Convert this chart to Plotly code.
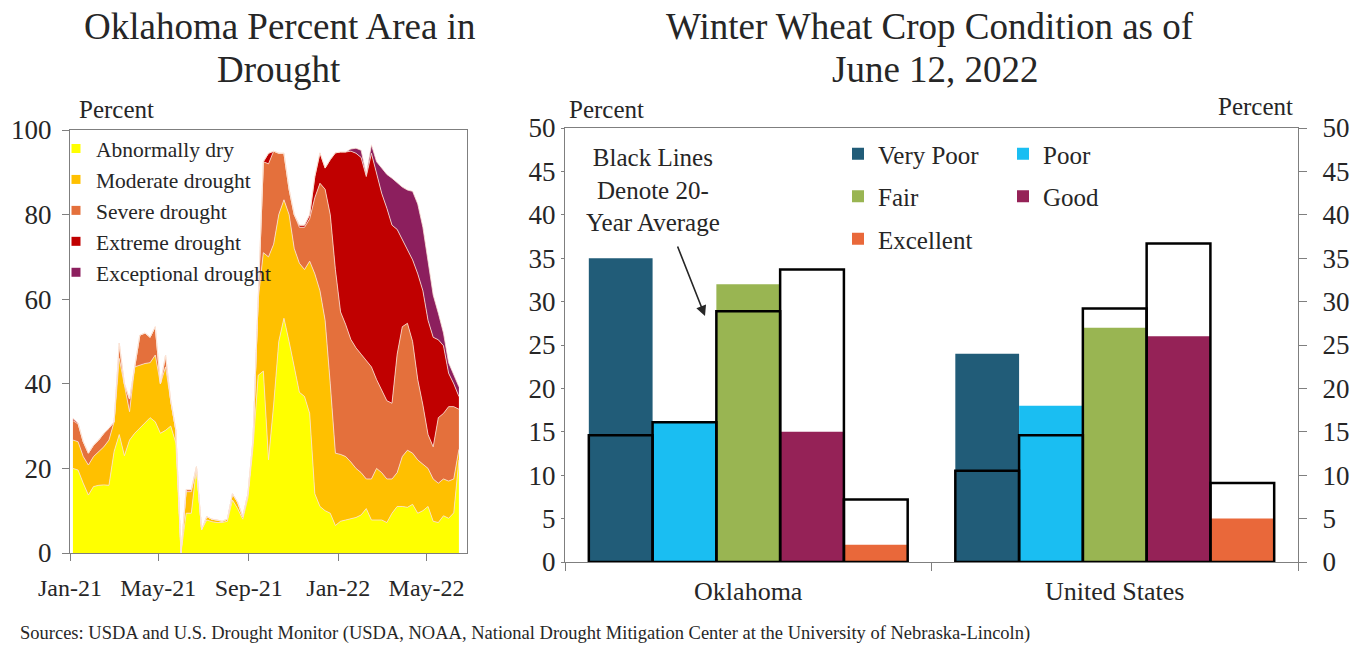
import pandas as pd
import plotly.graph_objects as go

# --- Painel esquerdo: Oklahoma, % da área em seca (Drought Monitor, semanal) ---
# Cada lista guarda o limite superior de cada faixa (as faixas são empilhadas).
semanas = pd.date_range("2021-01-05", periods=76, freq="7D")

topo_anormal = [20, 19.6, 16.5, 13.7, 15.7, 16, 16.1, 16, 24, 28,
                23, 26.7, 28.3, 29.5, 30.7, 32, 31, 28.3, 29, 30,
                26, 0, 9.4, 9.4, 20, 5.5, 7.8, 7.4, 7.2, 7.2,
                7.5, 12.5, 10.5, 8, 13, 25, 42, 43, 22, 35,
                50, 55.5, 50, 44, 38, 37, 33, 14, 11, 10,
                9.4, 6.5, 7.5, 7.8, 8.1, 8.4, 9, 10.5, 7.8, 7.8,
                7.8, 7.2, 9.4, 11, 11, 10.8, 11.5, 9.4, 10, 11,
                7.5, 7.2, 8.8, 8.2, 9.5, 22]
topo_moderada = [26.7, 26.3, 22.8, 20.8, 22.8, 24, 25.1, 26.7, 31, 46,
                 40, 33.4, 44, 44.4, 44.8, 45, 46.8, 40, 44, 36,
                 29, 0, 14.5, 14.5, 20.4, 5.5, 8.6, 8.0, 7.8, 7.5,
                 8, 14, 12, 8.6, 14, 27, 60, 71, 70, 73,
                 80, 83.5, 80, 72, 68.5, 67, 69, 66, 62, 55,
                 40, 23.6, 23.3, 22.8, 21.5, 20, 19, 17.5, 17.5, 20,
                 19, 17.5, 17.5, 19, 22.8, 24.3, 23.6, 22, 21, 20,
                 17.5, 16.5, 17.5, 17, 17.5, 24.5]
topo_severa = [31.3, 30.5, 26.3, 23.6, 25.5, 26.7, 28.3, 29.5, 31, 49.6,
               40, 36.4, 44, 51.5, 52, 51, 53.5, 40, 46.8, 36,
               29, 0, 15, 15, 20.4, 5.5, 8.6, 8.0, 7.8, 7.5,
               8, 14, 12, 8.6, 14, 27, 60, 92.5, 92, 95,
               94.5, 94.5, 86, 80, 77, 77, 79, 84, 87.4, 86,
               80, 67, 57, 54, 50.5, 48.5, 47, 45.5, 44, 41,
               38.5, 36, 35.4, 47, 53.5, 54.3, 50, 41, 35, 28,
               25.1, 32, 33, 34.6, 34.6, 34]
topo_extrema = [31.8, 30.7, 26.3, 23.6, 25.5, 26.7, 28.3, 29.5, 31, 49.6,
                40, 36.4, 44, 51.5, 52, 51, 53.5, 40, 46.8, 36,
                29, 0, 15, 15, 20.4, 5.5, 8.6, 8.0, 7.8, 7.5,
                8, 14, 12, 8.6, 14, 27, 60, 92.5, 94.5, 95,
                94.5, 94.5, 86, 80, 77.5, 77.5, 80, 89, 94.6, 91,
                93, 94.6, 94.8, 94.8, 95, 94.5, 93.5, 89, 94.5, 90,
                85, 81.5, 77.5, 76.5, 74, 71.5, 69.3, 66, 62, 55,
                51, 50.4, 49, 42.5, 40, 37]
topo_excepcional = [31.8, 30.7, 26.3, 23.6, 25.5, 26.7, 28.3, 29.5, 31, 49.6,
                    40, 36.4, 44, 51.5, 52, 51, 53.5, 40, 46.8, 36,
                    29, 0, 15, 15, 20.4, 5.5, 8.6, 8.0, 7.8, 7.5,
                    8, 14, 12, 8.6, 14, 27, 60, 92.5, 94.5, 95,
                    94.5, 94.5, 86, 80, 77.5, 77.5, 80, 89, 94.6, 91,
                    93, 94.6, 94.8, 94.8, 95.5, 95.7, 95.2, 89.5, 96.5, 92.5,
                    91, 89.5, 88.6, 87.5, 86.5, 85.8, 85.5, 82.5, 77, 69,
                    61, 56.7, 52, 45, 42, 39.3]

nomes_seca = ["Abnormally dry", "Moderate drought", "Severe drought",
              "Extreme drought", "Exceptional drought"]
cores_seca = ["#FFFF00", "#FFC000", "#E4703C", "#C00000", "#8C1F5E"]

# --- Painel direito: condição do trigo de inverno em 12/06/2022 ---
estados = ["Oklahoma", "United States"]
condicoes = ["Very Poor", "Poor", "Fair", "Good", "Excellent"]
atual_ok = [35, 16, 32, 15, 2]
atual_us = [24, 18, 27, 26, 5]
media_ok = [14.6, 16.1, 28.9, 33.7, 7.2]   # média de 20 anos
media_us = [10.5, 14.6, 29.2, 36.7, 9.1]
cores_cond = ["#215C78", "#1ABEF2", "#99B552", "#952257", "#E9683A"]
legenda_cond = ["legend2", "legend3", "legend2", "legend3", "legend2"]

FONTE = "Liberation Serif"
CINZA = "#7f7f7f"
TXT = "#262626"
W, H = 1365, 645


def fx(px):
    return px / W


def fy(py):
    return 1 - py / H


fig = go.Figure()

# Áreas empilhadas (cada faixa preenche até a faixa anterior)
for nome, cor, topo in zip(nomes_seca, cores_seca,
                           [topo_anormal, topo_moderada, topo_severa,
                            topo_extrema, topo_excepcional]):
    fig.add_trace(go.Scatter(
        x=semanas, y=topo, mode="lines",
        fill="tozeroy" if nome == nomes_seca[0] else "tonexty",
        fillcolor=cor, line=dict(color="#FBE3D6", width=0.8),
        showlegend=False, hoverinfo="skip", xaxis="x", yaxis="y"))

# Entradas de legenda com quadradinhos
for nome, cor in zip(nomes_seca, cores_seca):
    fig.add_trace(go.Scatter(
        x=[None], y=[None], mode="markers", name=nome,
        marker=dict(symbol="square", size=9, color=cor),
        xaxis="x", yaxis="y", legend="legend"))

# Barras atuais
for k, cond in enumerate(condicoes):
    fig.add_trace(go.Bar(
        x=estados, y=[atual_ok[k], atual_us[k]], name=cond,
        marker=dict(color=cores_cond[k], line=dict(width=0)),
        offsetgroup=str(k), legend=legenda_cond[k], legendgroup=cond,
        xaxis="x2", yaxis="y2"))

# Contornos pretos = média de 20 anos
for k, cond in enumerate(condicoes):
    fig.add_trace(go.Bar(
        x=estados, y=[media_ok[k], media_us[k]], name=cond + " avg",
        marker=dict(color="rgba(0,0,0,0)", line=dict(color="black", width=2.5)),
        offsetgroup=str(k), showlegend=False, hoverinfo="skip",
        xaxis="x2", yaxis="y2"))

# eixo direito precisa de um traço para aparecer
fig.add_trace(go.Scatter(x=estados, y=[None, None], mode="markers",
                         showlegend=False, hoverinfo="skip",
                         xaxis="x2", yaxis="y3"))

eixo = dict(showline=True, linecolor=CINZA, linewidth=1, ticks="outside",
            tickcolor=CINZA, ticklen=7, showgrid=False, zeroline=False,
            automargin=False, tickfont=dict(size=27, color=TXT))

fig.update_layout(
    width=W, height=H,
    margin=dict(l=0, r=0, t=0, b=0, autoexpand=False),
    paper_bgcolor="white", plot_bgcolor="white",
    font=dict(family=FONTE, color=TXT),
    barmode="group", bargap=0.13, bargroupgap=0,
    xaxis=dict(eixo, domain=[fx(70), fx(467)], anchor="y", type="date",
               range=["2021-01-01", "2022-06-25"], tick0="2021-01-01",
               dtick="M4", tickformat="%b-%y", mirror=True,
               tickfont=dict(size=24, color=TXT), ticklabelstandoff=6),
    yaxis=dict(eixo, domain=[fy(553), fy(130)], anchor="x",
               range=[0, 100], dtick=20, mirror=True, ticklabelstandoff=5),
    xaxis2=dict(eixo, domain=[fx(565), fx(1298)], anchor="y2", type="category",
                range=[-0.5, 1.5], tickson="boundaries", ticklen=8, mirror=True,
                tickfont=dict(size=26, color=TXT), ticklabelstandoff=6),
    yaxis2=dict(eixo, domain=[fy(562), fy(128)], anchor="x2",
                range=[0, 50], dtick=5, ticklen=3, ticklabelstandoff=0),
    yaxis3=dict(eixo, overlaying="y2", side="right", anchor="x2",
                range=[0, 50], dtick=5, ticklen=8, ticklabelstandoff=10),
    legend=dict(x=fx(56), y=fy(128), xanchor="left", yanchor="top",
                traceorder="normal", bgcolor="rgba(0,0,0,0)",
                font=dict(size=21.5, color=TXT)),
    legend2=dict(x=fx(838), y=fy(131), xanchor="left", yanchor="top",
                 bgcolor="rgba(0,0,0,0)", tracegroupgap=7,
                 font=dict(size=25, color=TXT)),
    legend3=dict(x=fx(1003), y=fy(131), xanchor="left", yanchor="top",
                 bgcolor="rgba(0,0,0,0)", tracegroupgap=7,
                 font=dict(size=25, color=TXT)),
)


def texto(t, x, y, tam, xanchor="center", **kw):
    fig.add_annotation(text=t, x=fx(x), y=fy(y), xref="paper", yref="paper",
                       xanchor=xanchor, yanchor="middle", showarrow=False,
                       font=dict(size=tam, family=FONTE, color=TXT), **kw)


texto("Oklahoma Percent Area in", 279, 27, 37)
texto("Drought", 279, 69, 37)
texto("Winter Wheat Crop Condition as of", 930, 27, 37)
texto("June 12, 2022", 935, 69, 37)
texto("Percent", 116, 110, 25)
texto("Percent", 606, 110, 25)
texto("Percent", 1255, 106, 25)
texto("Black Lines<br>Denote 20-<br>Year Average", 653, 190, 25, align="center")
texto("Sources: USDA and U.S. Drought Monitor (USDA, NOAA, National Drought "
      "Mitigation Center at the University of Nebraska-Lincoln)",
      18, 633, 18.5, xanchor="left")

# seta apontando para a linha preta
fig.add_annotation(text="", x=fx(705), y=fy(316), xref="paper", yref="paper",
                   ax=-28, ay=-71, showarrow=True, arrowhead=2, arrowsize=1.3,
                   arrowwidth=1.6, arrowcolor=TXT, standoff=0)

# sem a margem padrão do body, a figura ocupa a janela inteira
fig.write_html("out.html", config={"staticPlot": True},
               post_script="document.body.style.margin='0';")
